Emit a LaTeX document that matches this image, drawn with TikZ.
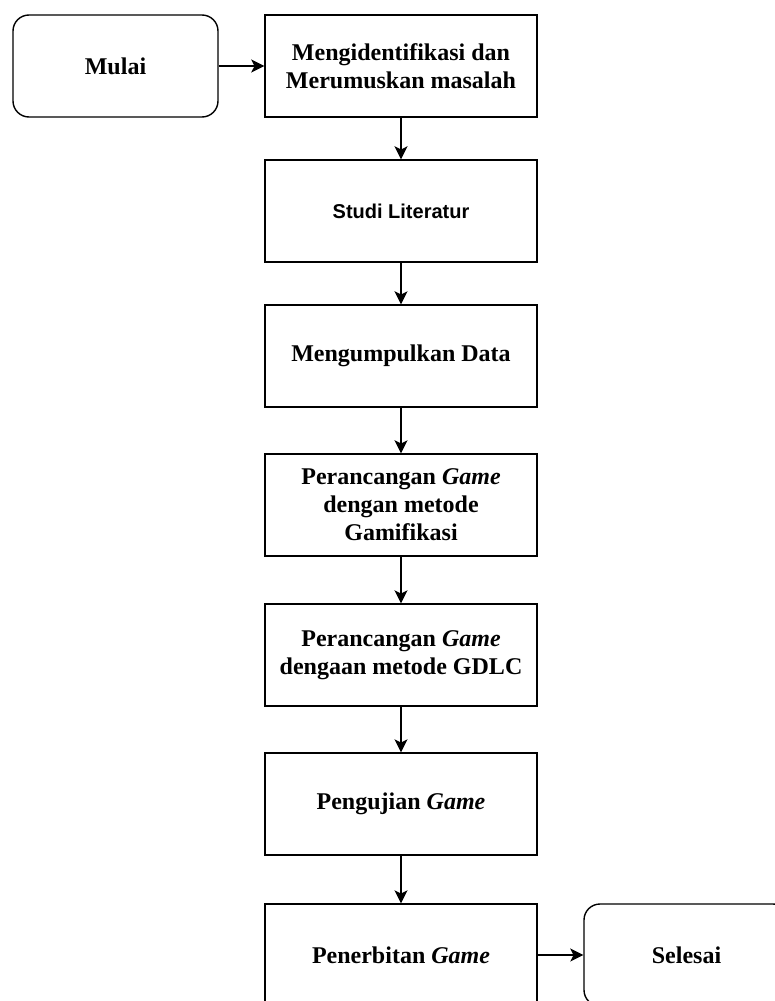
\documentclass[tikz,border=0pt]{standalone}
\usepackage{fontspec}
\setmainfont{Liberation Serif}
\setsansfont{Liberation Sans}
\usetikzlibrary{arrows.meta}
\tikzset{
  stepbox/.style={draw, line width=0.7pt, minimum width=136pt, minimum height=51pt,
    inner sep=0pt, align=center, font=\fontsize{12}{14}\selectfont\bfseries},
  termbox/.style={stepbox, rounded corners=8pt, minimum width=102.5pt},
  flow/.style={-{Stealth[length=6.5pt,width=6.5pt,inset=1.6pt]}, line width=0.7pt},
}
\begin{document}
\begin{tikzpicture}[x=0.5pt,y=-0.5pt]
    \useasboundingbox (0,0) rectangle (775,1001);
    \clip (0,0) rectangle (775,1001);
    % start and main column
    \node[termbox] (mulai) at (115.5,66) {Mulai};
    \node[stepbox] (ident) at (401,66) {Mengidentifikasi dan\\Merumuskan masalah};
    \node[stepbox, font={\fontsize{10}{12}\selectfont\sffamily\bfseries}] (studi) at (401,211) {Studi Literatur};
    \node[stepbox] (data) at (401,356) {Mengumpulkan Data};
    \node[stepbox] (gamif) at (401,505) {Perancangan \textit{Game}\\dengan metode\\Gamifikasi};
    \node[stepbox] (gdlc) at (401,655) {Perancangan \textit{Game}\\dengaan metode GDLC};
    \node[stepbox] (uji) at (401,804) {Pengujian \textit{Game}};
    \node[stepbox] (terbit) at (401,955) {Penerbitan \textit{Game}};
    % end
    \node[termbox] (selesai) at (686.5,955) {Selesai};
    % connectors
    \draw[flow] (mulai) -- (ident);
    \foreach \a/\b in {ident/studi,studi/data,data/gamif,gamif/gdlc,gdlc/uji,uji/terbit}{
        \draw[flow] (\a) -- (\b);
    }
    \draw[flow] (terbit) -- (selesai);
\end{tikzpicture}
\end{document}
